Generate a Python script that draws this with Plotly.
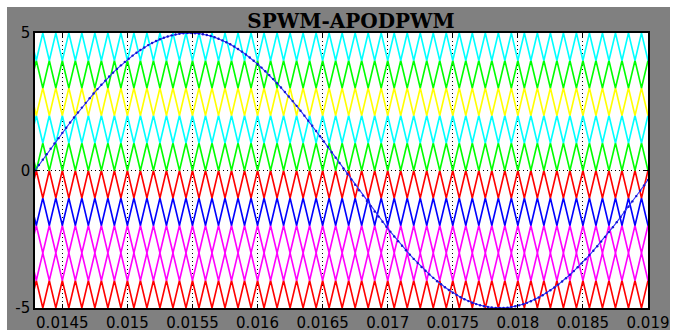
import numpy as np
import plotly.graph_objects as go

# Time window shown on the x axis (s)
t_start, t_end = 0.01429, 0.019

# Triangular carriers: 10 kHz, ten stacked 1-unit bands, alternate phase opposition
carrier_freq = 10000.0
band_lower = [-5, -4, -3, -2, -1, 0, 1, 2, 3, 4]
band_colors = ["#ff0000", "#ff00ff", "#ff00ff", "#0000ff", "#ff0000",
               "#00ff00", "#00ffff", "#ffff00", "#00ff00", "#00ffff"]

# Sinusoidal reference
ref_amplitude = 5.0
ref_freq = 210.0
ref_zero = 0.01429
ref_step = 3e-5

# Axis ticks
x_ticks = [0.0145, 0.015, 0.0155, 0.016, 0.0165, 0.017, 0.0175, 0.018, 0.0185, 0.019]
x_tick_text = ["0.0145", "0.015", "0.0155", "0.016", "0.0165", "0.017",
               "0.0175", "0.018", "0.0185", "0.019"]
y_ticks = [-5, 0, 5]
y_tick_text = ["-5", "0", "5"]

fig = go.Figure()

# carrier vertices sit on every half period
half = 0.5 / carrier_freq
n0 = int(np.floor(t_start / half)) - 1
n1 = int(np.ceil(t_end / half)) + 1
n = np.arange(n0, n1 + 1)
tv = n * half
tri = np.where(n % 2 == 0, 1.0, 0.0)

for k, (lo, col) in enumerate(zip(band_lower, band_colors)):
    yv = lo + (tri if k % 2 == 0 else 1.0 - tri)
    fig.add_trace(go.Scatter(x=tv, y=yv, mode="lines",
                             line=dict(color=col, width=1.6),
                             hoverinfo="skip", showlegend=False))

ts = np.arange(t_start, t_end + ref_step, ref_step)
ref = ref_amplitude * np.sin(2 * np.pi * ref_freq * (ts - ref_zero))
fig.add_trace(go.Scatter(x=ts, y=ref, mode="lines+markers",
                         line=dict(color="rgb(50,50,255)", width=1.1),
                         marker=dict(color="rgb(20,20,210)", size=2.4),
                         hoverinfo="skip", showlegend=False))

W, H = 675, 333
ml, mr, mt, mb = 35, 27, 33, 25
pw, ph = W - ml - mr, H - mt - mb

def px_to_paper_x(px):
    return (px - ml) / pw

def px_to_paper_y(py):
    return (H - mb - py) / ph

shapes = [
    dict(type="rect", xref="paper", yref="paper", layer="below",
         x0=px_to_paper_x(7), x1=px_to_paper_x(670),
         y0=px_to_paper_y(330), y1=px_to_paper_y(7),
         fillcolor="#808080", line=dict(width=0)),
    dict(type="rect", xref="paper", yref="paper", layer="below",
         x0=0, x1=1, y0=0, y1=1,
         fillcolor="white", line=dict(width=0)),
]

axis_common = dict(
    automargin=False,
    showline=True, linecolor="black", linewidth=1.5, mirror="ticks",
    ticks="inside", ticklen=4, tickcolor="black", tickwidth=1,
    showgrid=True, gridcolor="black", gridwidth=1, griddash="1px,3px",
    zeroline=False,
    tickfont=dict(family="DejaVu Sans", size=15, color="black"),
)

fig.update_layout(
    width=W, height=H,
    margin=dict(l=ml, r=mr, t=mt, b=mb, pad=0, autoexpand=False),
    paper_bgcolor="white",
    plot_bgcolor="white",
    shapes=shapes,
    title=dict(text="<b>SPWM-APODPWM</b>",
               font=dict(family="DejaVu Serif", size=20, color="black"),
               x=(351 - ml) / pw, xref="paper", xanchor="center",
               y=1 - 21 / H, yref="container", yanchor="middle"),
    xaxis=dict(range=[t_start, t_end], tickvals=x_ticks, ticktext=x_tick_text,
               **axis_common),
    yaxis=dict(range=[-5, 5], tickvals=y_ticks, ticktext=y_tick_text,
               **axis_common),
)

fig.write_html("out.html")
